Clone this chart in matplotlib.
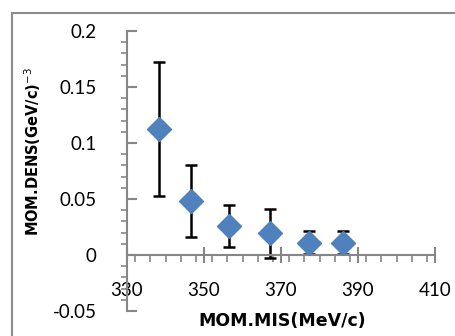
import numpy as np
import matplotlib.pyplot as plt
from matplotlib.ticker import MultipleLocator
from matplotlib.patches import Rectangle

plt.rcParams['font.family'] = ['Lato', 'DejaVu Sans']

# data
mom_mis = [338.3, 346.6, 356.5, 367.1, 377.3, 386.1]
mom_dens = [0.1125, 0.0485, 0.026, 0.0195, 0.011, 0.011]
dens_err = [0.06, 0.032, 0.019, 0.022, 0.010, 0.010]

x_ticks = [330, 350, 370, 390, 410]
y_ticks = [-0.05, 0, 0.05, 0.1, 0.15, 0.2]
y_tick_labels = ['-0.05', '0', '0.05', '0.1', '0.15', '0.2']

axis_gray = '#868686'
blue = '#4F81BD'

fig = plt.figure(figsize=(4.55, 3.36), dpi=100)
# outer chart frame (only top/left visible in the crop)
fig.patches.append(Rectangle((12/455, -0.1), 1.2, 1.1 - 13/336, transform=fig.transFigure,
                             fill=False, edgecolor='#8c8c8c', linewidth=1.5))
ax = fig.add_axes([127/455, 25/336, 308/455, 280/336])

ax.errorbar(mom_mis, mom_dens, yerr=dens_err, fmt='none', ecolor='black',
            elinewidth=1.8, capsize=4.5, capthick=1.8, zorder=2)
ax.plot(mom_mis, mom_dens, linestyle='none', marker='D', markersize=12,
        color=blue, zorder=3)

ax.set_xlim(330, 410)
ax.set_ylim(-0.05, 0.2)
ax.set_xticks(x_ticks)
ax.xaxis.set_minor_locator(MultipleLocator(4))
ax.set_yticks(y_ticks)
ax.set_yticklabels(y_tick_labels)
ax.yaxis.set_minor_locator(MultipleLocator(0.01))

for s in ['top', 'right']:
    ax.spines[s].set_visible(False)
ax.spines['bottom'].set_position(('data', 0))
ax.spines['bottom'].set_color(axis_gray)
ax.spines['bottom'].set_linewidth(1.5)
ax.spines['left'].set_color(axis_gray)
ax.spines['left'].set_linewidth(1.5)

ax.tick_params(axis='x', which='major', direction='inout', length=11, width=1.5,
               color=axis_gray, labelsize=13.5, pad=14)
ax.tick_params(axis='x', which='minor', direction='out', length=5, width=1.2,
               color=axis_gray)
ax.tick_params(axis='y', which='major', direction='in', length=7, width=1.5,
               color=axis_gray, labelsize=13.5, pad=22)
ax.tick_params(axis='y', which='minor', direction='out', length=4, width=1.2,
               color=axis_gray)

ax.set_xlabel('MOM.MIS(MeV/c)', fontsize=12.5, fontweight='bold',
              family='DejaVu Sans', va='center')
ax.xaxis.set_label_coords(0.503, -0.035)
ax.set_ylabel('MOM.DENS(GeV/c)$^{-3}$', fontsize=10.5, fontweight='bold',
              family='DejaVu Sans', va='center')
ax.yaxis.set_label_coords(-0.305, 0.57)

fig.savefig('out.png', dpi=100)
